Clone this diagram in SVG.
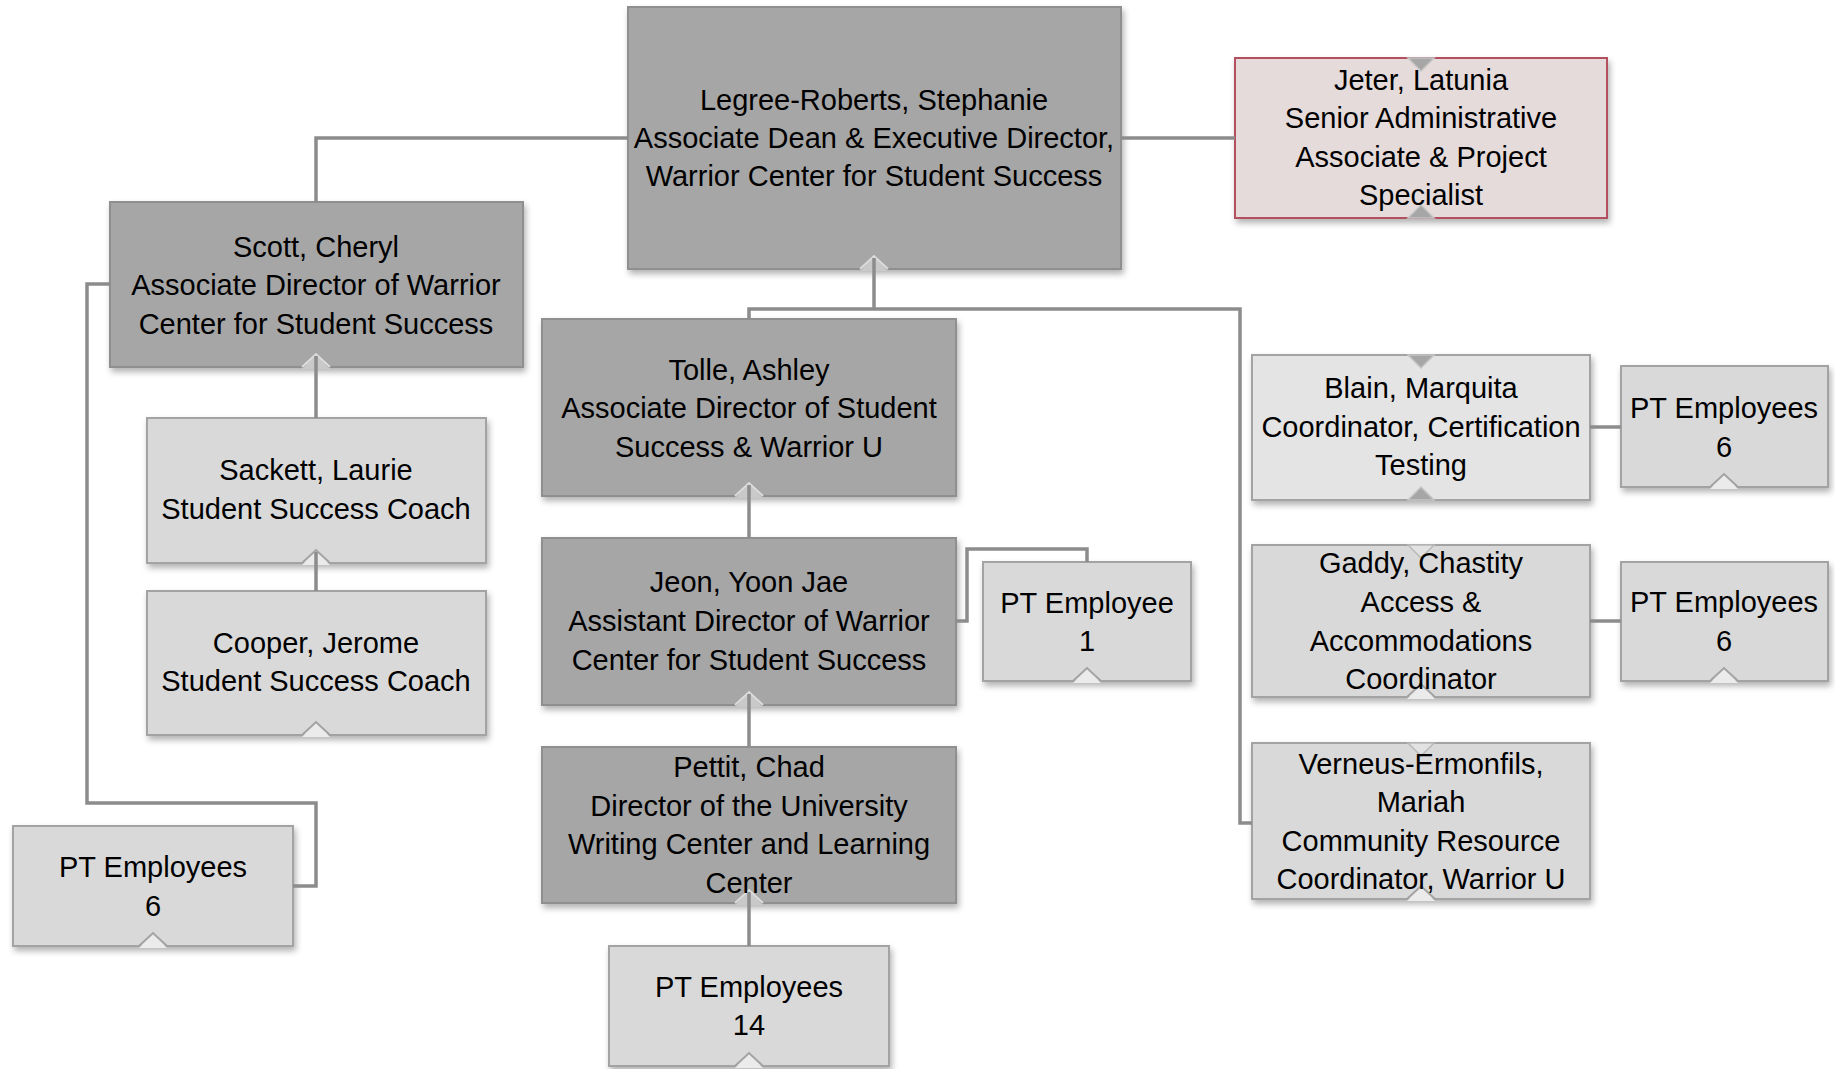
<svg xmlns="http://www.w3.org/2000/svg" width="1835" height="1069" viewBox="0 0 1835 1069">
<style>
.box{filter:url(#sh)}
.dark{fill:#a6a6a6;stroke:#8f8f8f;stroke-width:2}
.light{fill:#d9d9d9;stroke:#a3a3a3;stroke-width:2}
.lighter{fill:#e4e4e4;stroke:#a3a3a3;stroke-width:2}
.pink{fill:#e5dbdb;stroke:#b4505f;stroke-width:2}
.cut{fill:#c9c9c9;stroke:none}
.cutw{fill:#ebebeb;stroke:none}
.cutd{fill:none;stroke:#dcdcdc;stroke-width:2}
.cutl{fill:none;stroke:#a3a3a3;stroke-width:2}
.tri{fill:#a6a6a6;stroke:#c4c4c4;stroke-width:1.5}
.tril{fill:#e2e2e2;stroke:#b8b8b8;stroke-width:1.5}
.conn{fill:none;stroke:#8c8c8c;stroke-width:3.5}
text{font-family:"Liberation Sans",Arial,sans-serif;font-size:29px;fill:#000;text-anchor:middle}
</style>
<defs>
<filter id="sh" x="-10%" y="-10%" width="120%" height="130%">
<feDropShadow dx="2" dy="4" stdDeviation="3" flood-color="#000" flood-opacity="0.3"/>
</filter>
</defs>

<g id="node-legree">
<rect class="box dark" x="628" y="7" width="493" height="262"/>
<polygon class="cut" points="860,271 874,256 888,271"/>
<polyline class="cutd" points="860,269 874,256 888,269"/>
<text x="874" y="110">Legree-Roberts, Stephanie</text>
<text x="874" y="148">Associate Dean &amp; Executive Director,</text>
<text x="874" y="186">Warrior Center for Student Success</text>
</g>

<g id="node-jeter">
<rect class="box pink" x="1235" y="58" width="372" height="160"/>
<polygon class="tri" points="1408,58 1434,58 1421,71"/>
<polygon class="tri" points="1408,218 1421,205 1434,218"/>
<text x="1421" y="90">Jeter, Latunia</text>
<text x="1421" y="128">Senior Administrative</text>
<text x="1421" y="167">Associate &amp; Project</text>
<text x="1421" y="205">Specialist</text>
</g>

<g id="node-scott">
<rect class="box dark" x="110" y="202" width="413" height="165"/>
<polygon class="cut" points="302,369 316,354 330,369"/>
<polyline class="cutd" points="302,367 316,354 330,367"/>
<text x="316" y="257">Scott, Cheryl</text>
<text x="316" y="295">Associate Director of Warrior</text>
<text x="316" y="334">Center for Student Success</text>
</g>

<g id="node-sackett">
<rect class="box light" x="147" y="418" width="339" height="145"/>
<polygon class="cutw" points="302,565 316,550 330,565"/>
<polyline class="cutl" points="302,563 316,550 330,563"/>
<text x="316" y="480">Sackett, Laurie</text>
<text x="316" y="519">Student Success Coach</text>
</g>

<g id="node-cooper">
<rect class="box light" x="147" y="591" width="339" height="144"/>
<polygon class="cutw" points="302,737 316,722 330,737"/>
<polyline class="cutl" points="302,735 316,722 330,735"/>
<text x="316" y="653">Cooper, Jerome</text>
<text x="316" y="691">Student Success Coach</text>
</g>

<g id="node-pt-left">
<rect class="box light" x="13" y="826" width="280" height="120"/>
<polygon class="cutw" points="139,948 153,933 167,948"/>
<polyline class="cutl" points="139,946 153,933 167,946"/>
<text x="153" y="877">PT Employees</text>
<text x="153" y="916">6</text>
</g>

<g id="node-tolle">
<rect class="box dark" x="542" y="319" width="414" height="177"/>
<polygon class="cut" points="735,498 749,483 763,498"/>
<polyline class="cutd" points="735,496 749,483 763,496"/>
<text x="749" y="380">Tolle, Ashley</text>
<text x="749" y="418">Associate Director of Student</text>
<text x="749" y="457">Success &amp; Warrior U</text>
</g>

<g id="node-jeon">
<rect class="box dark" x="542" y="538" width="414" height="167"/>
<polygon class="cut" points="735,707 749,692 763,707"/>
<polyline class="cutd" points="735,705 749,692 763,705"/>
<text x="749" y="592">Jeon, Yoon Jae</text>
<text x="749" y="631">Assistant Director of Warrior</text>
<text x="749" y="670">Center for Student Success</text>
</g>

<g id="node-pt-one">
<rect class="box light" x="983" y="562" width="208" height="119"/>
<polygon class="cutw" points="1073,683 1087,668 1101,683"/>
<polyline class="cutl" points="1073,681 1087,668 1101,681"/>
<text x="1087" y="613">PT Employee</text>
<text x="1087" y="651">1</text>
</g>

<g id="node-pettit">
<rect class="box dark" x="542" y="747" width="414" height="156"/>
<polygon class="cut" points="735,905 749,890 763,905"/>
<polyline class="cutd" points="735,903 749,890 763,903"/>
<text x="749" y="777">Pettit, Chad</text>
<text x="749" y="816">Director of the University</text>
<text x="749" y="854">Writing Center and Learning</text>
<text x="749" y="893">Center</text>
</g>

<g id="node-pt-fourteen">
<rect class="box light" x="609" y="946" width="280" height="120"/>
<polygon class="cutw" points="735,1068 749,1053 763,1068"/>
<polyline class="cutl" points="735,1066 749,1053 763,1066"/>
<text x="749" y="997">PT Employees</text>
<text x="749" y="1035">14</text>
</g>

<g id="node-blain">
<rect class="box lighter" x="1252" y="355" width="338" height="145"/>
<polygon class="tri" points="1408,355 1434,355 1421,368"/>
<polygon class="tri" points="1408,500 1421,487 1434,500"/>
<text x="1421" y="398">Blain, Marquita</text>
<text x="1421" y="437">Coordinator, Certification</text>
<text x="1421" y="475">Testing</text>
</g>

<g id="node-pt-right1">
<rect class="box light" x="1621" y="366" width="207" height="121"/>
<polygon class="cutw" points="1710,489 1724,474 1738,489"/>
<polyline class="cutl" points="1710,487 1724,474 1738,487"/>
<text x="1724" y="418">PT Employees</text>
<text x="1724" y="457">6</text>
</g>

<g id="node-gaddy">
<rect class="box light" x="1252" y="545" width="338" height="152"/>
<polygon class="tril" points="1408,545 1434,545 1421,558"/>
<polygon class="cutw" points="1407,699 1421,684 1435,699"/>
<polyline class="cutl" points="1407,697 1421,684 1435,697"/>
<text x="1421" y="573">Gaddy, Chastity</text>
<text x="1421" y="612">Access &amp;</text>
<text x="1421" y="651">Accommodations</text>
<text x="1421" y="689">Coordinator</text>
</g>

<g id="node-pt-right2">
<rect class="box light" x="1621" y="562" width="207" height="119"/>
<polygon class="cutw" points="1710,683 1724,668 1738,683"/>
<polyline class="cutl" points="1710,681 1724,668 1738,681"/>
<text x="1724" y="612">PT Employees</text>
<text x="1724" y="651">6</text>
</g>

<g id="node-verneus">
<rect class="box light" x="1252" y="743" width="338" height="156"/>
<polygon class="tril" points="1408,743 1434,743 1421,756"/>
<polygon class="cutw" points="1407,901 1421,886 1435,901"/>
<polyline class="cutl" points="1407,899 1421,886 1435,899"/>
<text x="1421" y="774">Verneus-Ermonfils,</text>
<text x="1421" y="812">Mariah</text>
<text x="1421" y="851">Community Resource</text>
<text x="1421" y="889">Coordinator, Warrior U</text>
</g>

<g id="connectors">
<path class="conn" d="M628,138 H316 V202"/>
<path class="conn" d="M1121,138 H1235"/>
<path class="conn" d="M874,258 V309"/>
<path class="conn" d="M749,319 V309 H1240 V823 H1252"/>
<path class="conn" d="M749,485 V538"/>
<path class="conn" d="M749,694 V747"/>
<path class="conn" d="M749,892 V946"/>
<path class="conn" d="M956,621 H967 V549 H1087 V562"/>
<path class="conn" d="M110,284 H87 V803 H316 V886 H293"/>
<path class="conn" d="M316,356 V418"/>
<path class="conn" d="M316,552 V591"/>
<path class="conn" d="M1590,427 H1621"/>
<path class="conn" d="M1590,621 H1621"/>
</g>
</svg>
